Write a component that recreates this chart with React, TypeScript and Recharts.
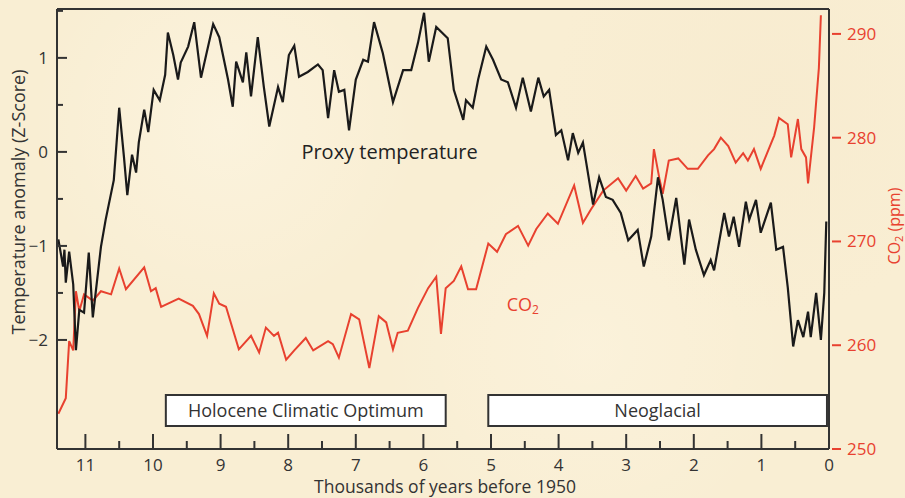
import {
  ComposedChart,
  Line,
  XAxis,
  YAxis,
  ReferenceArea,
  ReferenceDot,
} from "recharts";

// thousands of years before 1950 (x) and proxy temperature z-score
const tempYears = [
  11.4, 11.33, 11.31, 11.29, 11.24, 11.18, 11.14, 11.09, 11.02, 10.95, 10.89, 10.77, 10.7, 10.58,
  10.5, 10.43, 10.38, 10.31, 10.25, 10.21, 10.13, 10.07, 9.99, 9.9, 9.82, 9.78, 9.7, 9.63, 9.59,
  9.48, 9.39, 9.29, 9.11, 9.02, 8.89, 8.82, 8.77, 8.67, 8.62, 8.55, 8.45, 8.36, 8.28, 8.15, 8.08,
  7.99, 7.91, 7.84, 7.71, 7.56, 7.49, 7.41, 7.32, 7.25, 7.17, 7.1, 7.0, 6.89, 6.82, 6.73, 6.6,
  6.45, 6.3, 6.18, 6.08, 5.99, 5.92, 5.81, 5.64, 5.55, 5.41, 5.37, 5.27, 5.19, 5.07, 4.97, 4.85,
  4.75, 4.63, 4.53, 4.41, 4.3, 4.22, 4.14, 4.04, 3.96, 3.86, 3.79, 3.71, 3.64, 3.59, 3.49, 3.4,
  3.3, 3.2, 3.08, 2.97, 2.83, 2.74, 2.63, 2.53, 2.46, 2.37, 2.26, 2.14, 2.07, 1.97, 1.85, 1.75,
  1.7, 1.55, 1.48, 1.41, 1.33, 1.23, 1.18, 1.08, 1.01, 0.86, 0.78, 0.68, 0.61, 0.53, 0.46, 0.38,
  0.31, 0.27, 0.19, 0.12, 0.07, 0.04,
];
const tempValues = [
  -0.93, -1.22, -1.04, -1.39, -1.06, -1.41, -2.11, -1.68, -1.71, -1.07, -1.76, -1.01, -0.72, -0.3,
  0.47, -0.05, -0.46, -0.03, -0.22, 0.1, 0.45, 0.21, 0.66, 0.55, 0.82, 1.27, 1.03, 0.77, 0.95,
  1.12, 1.38, 0.79, 1.36, 1.22, 0.77, 0.48, 0.96, 0.74, 1.06, 0.59, 1.22, 0.69, 0.27, 0.69, 0.53,
  1.03, 1.13, 0.8, 0.85, 0.93, 0.87, 0.36, 0.87, 0.64, 0.66, 0.23, 0.77, 0.98, 0.96, 1.38, 1.05,
  0.53, 0.87, 0.87, 1.16, 1.48, 0.96, 1.33, 1.21, 0.66, 0.34, 0.55, 0.47, 0.77, 1.12, 0.98, 0.77,
  0.74, 0.47, 0.79, 0.43, 0.79, 0.59, 0.66, 0.18, 0.23, -0.09, 0.2, -0.01, 0.1, -0.12, -0.56, -0.27,
  -0.48, -0.51, -0.65, -0.94, -0.83, -1.22, -0.9, -0.27, -0.51, -0.94, -0.49, -1.2, -0.72, -1.04,
  -1.31, -1.15, -1.26, -0.65, -0.9, -0.69, -1.01, -0.53, -0.72, -0.51, -0.86, -0.54, -1.04, -1.01,
  -1.44, -2.07, -1.79, -1.97, -1.7, -1.97, -1.5, -2.0, -1.5, -0.74,
];

// CO2 (ppm)
const co2Years = [
  11.4, 11.29, 11.24, 11.18, 11.14, 11.09, 11.02, 10.89, 10.77, 10.62, 10.5, 10.4, 10.13, 10.03,
  9.96, 9.88, 9.62, 9.41, 9.32, 9.2, 9.1, 9.02, 8.92, 8.73, 8.55, 8.43, 8.33, 8.21, 8.15, 8.03,
  7.91, 7.74, 7.63, 7.41, 7.34, 7.25, 7.07, 6.95, 6.8, 6.66, 6.55, 6.45, 6.38, 6.23, 6.08, 5.93,
  5.81, 5.74, 5.67, 5.55, 5.44, 5.34, 5.22, 5.04, 4.91, 4.78, 4.6, 4.45, 4.33, 4.16, 4.01, 3.77,
  3.64, 3.52, 3.34, 3.12, 3.0, 2.86, 2.75, 2.63, 2.59, 2.51, 2.46, 2.37, 2.23, 2.09, 1.94, 1.79,
  1.7, 1.6, 1.49, 1.38, 1.27, 1.2, 1.11, 1.01, 0.81, 0.74, 0.61, 0.56, 0.46, 0.41, 0.34, 0.31,
  0.22, 0.15, 0.12,
];
const co2Values = [
  253.4, 254.9, 260.4, 259.5, 265.2, 263.3, 264.9, 264.3, 265.2, 264.9, 267.4, 265.4, 267.5, 265.2,
  265.5, 263.7, 264.5, 263.8, 263.0, 260.9, 265.0, 264.0, 263.7, 259.6, 260.9, 259.3, 261.7, 260.9,
  261.2, 258.6, 259.5, 260.7, 259.5, 260.4, 260.1, 258.8, 263.0, 262.5, 257.8, 262.8, 262.2, 259.6,
  261.2, 261.4, 263.6, 265.5, 266.6, 261.1, 265.5, 266.2, 267.6, 265.4, 265.4, 269.8, 269.0, 270.7,
  271.5, 269.6, 271.2, 272.7, 271.7, 275.4, 271.8, 273.1, 274.9, 276.1, 274.9, 276.3, 275.1, 275.6,
  278.9, 276.1, 274.6, 277.8, 278.0, 277.0, 277.0, 278.3, 278.9, 280.0, 279.2, 277.6, 278.5, 277.8,
  278.9, 277.0, 280.2, 281.9, 281.3, 278.1, 281.8, 278.9, 278.1, 275.6, 281.0, 286.7, 291.8,
];

const yearTicks = [
  0, 0.5, 1, 1.5, 2, 2.5, 3, 3.5, 4, 4.5, 5, 5.5, 6, 6.5, 7, 7.5, 8, 8.5, 9, 9.5, 10, 10.5, 11,
];
const tempTicks = [-2, -1.5, -1, -0.5, 0, 0.5, 1, 1.5];
const co2Ticks = [250, 260, 270, 280, 290];

const periods = [
  { name: "Holocene Climatic Optimum", from: 9.81, to: 5.67 },
  { name: "Neoglacial", from: 5.04, to: 0.03 },
];

const tempData = tempYears.map((kyr, i) => ({ kyr, temp: tempValues[i] }));
const co2Data = co2Years.map((kyr, i) => ({ kyr, co2: co2Values[i] }));

const FONT = "'Open Sans', 'Noto Sans', sans-serif";
const AXIS = "#333";
const RED = "#e8412f";

const BottomTick = ({ x, y, payload }: any) => {
  const major = Number.isInteger(payload.value);
  return (
    <g>
      <line x1={x} x2={x} y1={y} y2={y - (major ? 15 : 8)} stroke={AXIS} strokeWidth={2} />
      {major && (
        <text x={x} y={y + 22} textAnchor="middle" fontSize={17} fill="#333" fontFamily={FONT}>
          {payload.value}
        </text>
      )}
    </g>
  );
};

const TopTick = ({ x, y, payload }: any) => {
  const major = Number.isInteger(payload.value);
  return <line x1={x} x2={x} y1={y} y2={y + (major ? 15 : 8)} stroke={AXIS} strokeWidth={2} />;
};

const LeftTick = ({ x, y, payload }: any) => {
  const v = payload.value;
  const major = Number.isInteger(v);
  return (
    <g>
      <line x1={x} x2={x + (major ? 10 : 6)} y1={y} y2={y} stroke={AXIS} strokeWidth={2} />
      {major && (
        <text x={x - 9} y={y} dy="0.35em" textAnchor="end" fontSize={17} fill="#333" fontFamily={FONT}>
          {v < 0 ? `\u2212${Math.abs(v)}` : v}
        </text>
      )}
    </g>
  );
};

const RightTick = ({ x, y, payload }: any) => (
  <g>
    <line x1={x + 3} x2={x + 12} y1={y} y2={y} stroke={RED} strokeWidth={2} />
    <text x={x + 18} y={y} dy="0.35em" textAnchor="start" fontSize={17} fill={RED} fontFamily={FONT}>
      {payload.value}
    </text>
  </g>
);

export default function App() {
  return (
    <div
      style={{
        position: "absolute",
        left: 0,
        top: 0,
        width: 905,
        height: 498,
        overflow: "hidden",
        backgroundColor: "#f9eed3",
        backgroundImage:
          "radial-gradient(circle at 25% 25%, rgba(255,252,240,0.35), transparent 25%), radial-gradient(circle at 65% 70%, rgba(255,250,236,0.3), transparent 30%), radial-gradient(circle at 85% 20%, rgba(244,230,200,0.3), transparent 25%)",
      }}
    >
      <ComposedChart width={905} height={498} margin={{ top: 0, right: 0, bottom: 0, left: 0 }}>
        <XAxis
          xAxisId="bottom"
          dataKey="kyr"
          type="number"
          domain={[0, 11.42]}
          reversed
          ticks={yearTicks}
          interval={0}
          height={49}
          tickSize={0}
          tickMargin={0}
          tickLine={false}
          axisLine={{ stroke: AXIS, strokeWidth: 2 }}
          tick={<BottomTick />}
          label={(props: any) => (
            <text
              x={(props.viewBox?.x ?? 57) + (props.viewBox?.width ?? 772) / 2 + 2}
              y={493}
              textAnchor="middle"
              fontSize={17.5}
              fill="#333"
              fontFamily={FONT}
            >
              Thousands of years before 1950
            </text>
          )}
        />
        <XAxis
          xAxisId="top"
          orientation="top"
          dataKey="kyr"
          type="number"
          domain={[0, 11.42]}
          reversed
          ticks={yearTicks}
          interval={0}
          height={9}
          tickSize={0}
          tickMargin={0}
          tickLine={false}
          axisLine={{ stroke: AXIS, strokeWidth: 2 }}
          tick={<TopTick />}
        />
        <YAxis
          yAxisId="temp"
          type="number"
          domain={[-3.16, 1.52]}
          ticks={tempTicks}
          interval={0}
          width={57}
          tickSize={0}
          tickMargin={0}
          tickLine={false}
          axisLine={{ stroke: AXIS, strokeWidth: 2 }}
          tick={<LeftTick />}
          label={() => (
            <text
              x={18}
              y={202}
              transform="rotate(-90, 18, 202)"
              textAnchor="middle"
              dominantBaseline="central"
              fontSize={18}
              fill="#333"
              fontFamily={FONT}
            >
              Temperature anomaly (Z-Score)
            </text>
          )}
        />
        <YAxis
          yAxisId="co2"
          orientation="right"
          type="number"
          domain={[250, 292.4]}
          ticks={co2Ticks}
          interval={0}
          width={76}
          tickSize={0}
          tickMargin={0}
          tickLine={false}
          axisLine={{ stroke: AXIS, strokeWidth: 2 }}
          tick={<RightTick />}
          label={() => (
            <text
              x={894}
              y={226}
              transform="rotate(-90, 894, 226)"
              textAnchor="middle"
              dominantBaseline="central"
              fontSize={16}
              fill={RED}
              fontFamily={FONT}
            >
              CO<tspan fontSize={11} dy={4}>2</tspan>
              <tspan dy={-4}> (ppm)</tspan>
            </text>
          )}
        />
        {periods.map((p) => (
          <ReferenceArea
            key={p.name}
            xAxisId="bottom"
            yAxisId="temp"
            x1={p.from}
            x2={p.to}
            y1={-2.585}
            y2={-2.915}
            fill="#ffffff"
            fillOpacity={1}
            stroke={AXIS}
            strokeWidth={2}
            label={{ value: p.name, position: "center", fill: "#333", fontSize: 18, fontFamily: FONT }}
          />
        ))}
        <Line
          xAxisId="bottom"
          yAxisId="co2"
          data={co2Data}
          dataKey="co2"
          type="linear"
          stroke={RED}
          strokeWidth={2}
          dot={false}
          isAnimationActive={false}
        />
        <Line
          xAxisId="bottom"
          yAxisId="temp"
          data={tempData}
          dataKey="temp"
          type="linear"
          stroke="#1a1a1a"
          strokeWidth={2.2}
          dot={false}
          isAnimationActive={false}
        />
        <ReferenceDot
          xAxisId="bottom"
          yAxisId="temp"
          x={6.5}
          y={0}
          r={0}
          fill="none"
          stroke="none"
          label={{ value: "Proxy temperature", position: "center", fill: "#222", fontSize: 20, fontFamily: FONT }}
        />
        <ReferenceDot
          xAxisId="bottom"
          yAxisId="co2"
          x={4.53}
          y={264}
          r={0}
          fill="none"
          stroke="none"
          label={(props: any) => {
            const vb = props.viewBox || {};
            return (
              <text
                x={vb.x}
                y={vb.y}
                textAnchor="middle"
                dominantBaseline="central"
                fontSize={18}
                fill={RED}
                fontFamily={FONT}
              >
                CO<tspan fontSize={12} dy={5}>2</tspan>
              </text>
            );
          }}
        />
      </ComposedChart>
      <div
        style={{
          position: "absolute",
          left: 13,
          top: 493,
          fontFamily: FONT,
          fontSize: 15,
          color: "#555",
          lineHeight: "20px",
        }}
      >
        2021
      </div>
    </div>
  );
}
